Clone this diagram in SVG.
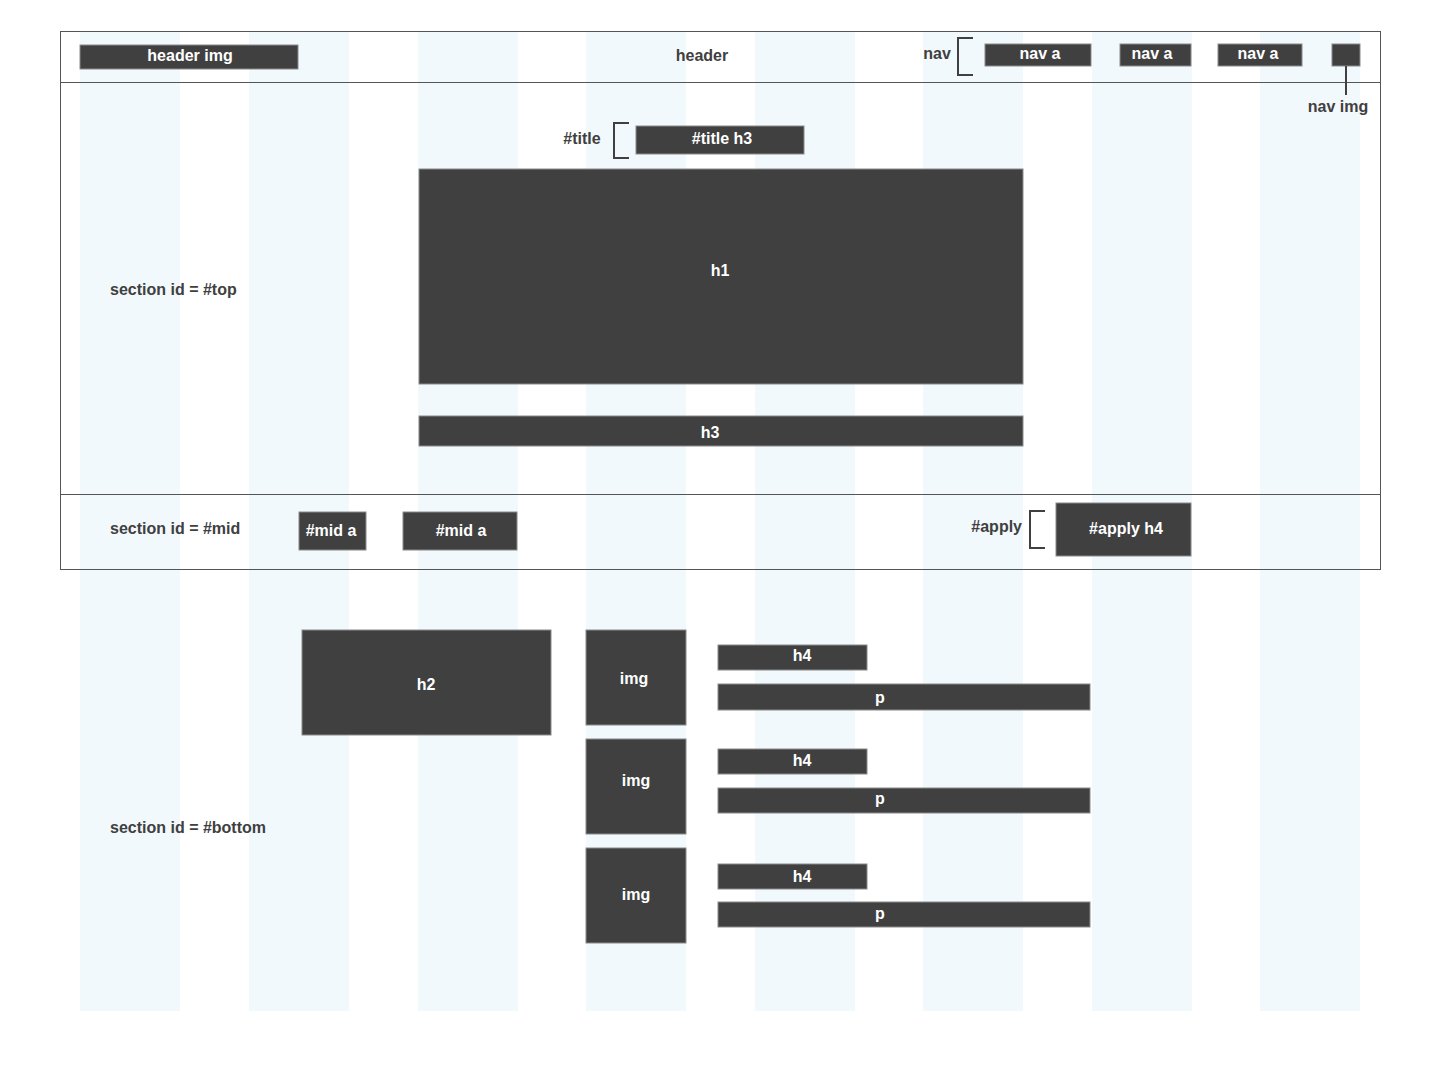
<svg xmlns="http://www.w3.org/2000/svg" width="1441" height="1071" viewBox="0 0 1441 1071">
<style>
.col{fill:#f2f9fd}
.frame{fill:none;stroke:#555;stroke-width:1}
.box{fill:#404040;stroke:#8a8a8a;stroke-width:1}
.bt{fill:#fff;font-family:"Liberation Sans",Arial,sans-serif;font-weight:bold;font-size:16px;text-anchor:middle;dominant-baseline:central}
.lb{fill:#404040;font-family:"Liberation Sans",Arial,sans-serif;font-weight:bold;font-size:16px;dominant-baseline:central}
.br{fill:none;stroke:#404040;stroke-width:2}
</style>
<rect width="1441" height="1071" fill="#fff"/>
<g id="columns">
<rect class="col" x="80" y="31" width="100" height="980"/>
<rect class="col" x="249" y="31" width="100" height="980"/>
<rect class="col" x="418" y="31" width="100" height="980"/>
<rect class="col" x="586" y="31" width="100" height="980"/>
<rect class="col" x="755" y="31" width="100" height="980"/>
<rect class="col" x="923" y="31" width="100" height="980"/>
<rect class="col" x="1092" y="31" width="100" height="980"/>
<rect class="col" x="1260" y="31" width="100" height="980"/>
</g>
<g id="frames">
<rect class="frame" x="60.5" y="31.5" width="1320" height="51"/>
<rect class="frame" x="60.5" y="82.5" width="1320" height="412"/>
<rect class="frame" x="60.5" y="494.5" width="1320" height="75"/>
</g>
<g id="header">
<text class="lb" x="702" y="55" text-anchor="middle">header</text>
</g>
<g id="header-img"><rect class="box" x="80" y="45" width="218" height="24"/><text class="bt" x="190" y="55">header img</text></g>
<g id="nav"><text class="lb" x="937" y="53" text-anchor="middle">nav</text></g>
<g id="nav-a1"><rect class="box" x="985" y="44" width="106" height="22"/><text class="bt" x="1040" y="53">nav a</text></g>
<g id="nav-a2"><rect class="box" x="1120" y="44" width="71" height="22"/><text class="bt" x="1152" y="53">nav a</text></g>
<g id="nav-a3"><rect class="box" x="1218" y="44" width="84" height="22"/><text class="bt" x="1258" y="53">nav a</text></g>
<g id="nav-img"><rect class="box" x="1332" y="44" width="28" height="22"/><text class="lb" x="1338" y="106" text-anchor="middle">nav img</text></g>
<g id="section-top"><text class="lb" x="110" y="289">section id = #top</text></g>
<g id="title"><text class="lb" x="582" y="138" text-anchor="middle">#title</text></g>
<g id="title-h3"><rect class="box" x="636" y="126" width="168" height="28"/><text class="bt" x="722" y="138">#title h3</text></g>
<g id="h1"><rect class="box" x="419" y="169" width="604" height="215"/><text class="bt" x="720" y="270">h1</text></g>
<g id="h3"><rect class="box" x="419" y="416" width="604" height="30"/><text class="bt" x="710" y="432">h3</text></g>
<g id="section-mid"><text class="lb" x="110" y="528">section id = #mid</text></g>
<g id="mid-a1"><rect class="box" x="299" y="512" width="67" height="38"/><text class="bt" x="331" y="530">#mid a</text></g>
<g id="mid-a2"><rect class="box" x="403" y="512" width="114" height="38"/><text class="bt" x="461" y="530">#mid a</text></g>
<g id="apply"><text class="lb" x="1022" y="526" text-anchor="end">#apply</text></g>
<g id="apply-h4"><rect class="box" x="1056" y="503" width="135" height="53"/><text class="bt" x="1126" y="528">#apply h4</text></g>
<g id="section-bottom"><text class="lb" x="110" y="827">section id = #bottom</text></g>
<g id="h2"><rect class="box" x="302" y="630" width="249" height="105"/><text class="bt" x="426" y="684">h2</text></g>
<g id="img1"><rect class="box" x="586" y="630" width="100" height="95"/><text class="bt" x="634" y="678">img</text></g>
<g id="img2"><rect class="box" x="586" y="739" width="100" height="95"/><text class="bt" x="636" y="780">img</text></g>
<g id="img3"><rect class="box" x="586" y="848" width="100" height="95"/><text class="bt" x="636" y="894">img</text></g>
<g id="h4-1"><rect class="box" x="718" y="645" width="149" height="25"/><text class="bt" x="802" y="655">h4</text></g>
<g id="p1"><rect class="box" x="718" y="684" width="372" height="26"/><text class="bt" x="880" y="697">p</text></g>
<g id="h4-2"><rect class="box" x="718" y="749" width="149" height="25"/><text class="bt" x="802" y="760">h4</text></g>
<g id="p2"><rect class="box" x="718" y="788" width="372" height="25"/><text class="bt" x="880" y="798">p</text></g>
<g id="h4-3"><rect class="box" x="718" y="864" width="149" height="25"/><text class="bt" x="802" y="876">h4</text></g>
<g id="p3"><rect class="box" x="718" y="902" width="372" height="25"/><text class="bt" x="880" y="913">p</text></g>
<g id="connectors">
<path class="br" d="M973,38 H958 V75 H973"/>
<path class="br" d="M629,123 H614 V158 H629"/>
<path class="br" d="M1045,511 H1030 V548 H1045"/>
<path class="br" d="M1346,66 V95"/>
</g>
</svg>
